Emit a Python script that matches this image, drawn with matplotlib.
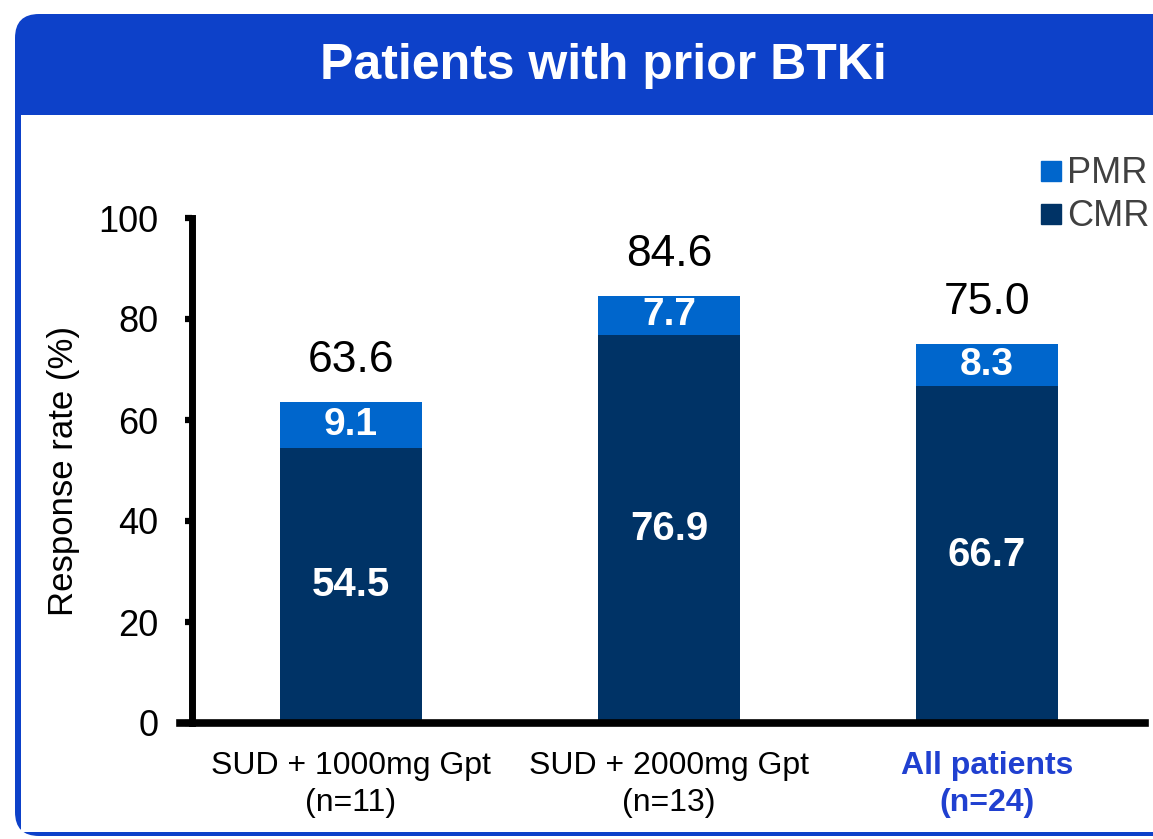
import matplotlib.pyplot as plt
from matplotlib.patches import FancyBboxPatch, Rectangle
from matplotlib.lines import Line2D

plt.rcParams['font.family'] = ['Liberation Sans', 'DejaVu Sans']

groups = ['SUD + 1000mg Gpt\n(n=11)', 'SUD + 2000mg Gpt\n(n=13)', 'All patients\n(n=24)']
cmr = [54.5, 76.9, 66.7]
pmr = [9.1, 7.7, 8.3]
totals = [63.6, 84.6, 75.0]

cmr_color = '#003366'
pmr_color = '#0066cc'
frame_blue = '#0d41c9'

W, H = 1153, 839
fig = plt.figure(figsize=(W / 100, H / 100), dpi=100)

# background frame drawn in pixel units
bg = fig.add_axes([0, 0, 1, 1], zorder=0)
bg.set_xlim(0, W)
bg.set_ylim(H, 0)
bg.axis('off')
bg.add_patch(FancyBboxPatch((15, 14), 1200, 822, boxstyle='round,pad=0,rounding_size=24',
                            facecolor=frame_blue, edgecolor='none'))
bg.add_patch(Rectangle((21, 115), 1200, 717, facecolor='white', edgecolor='none'))
bg.text(603, 66, 'Patients with prior BTKi', color='white', fontsize=36,
        fontweight='bold', ha='center', va='center')

ax_l, ax_r, ax_t, ax_b = 192, 1145, 218, 723
ax = fig.add_axes([ax_l / W, (H - ax_b) / H, (ax_r - ax_l) / W, (ax_b - ax_t) / H], zorder=1)
ax.patch.set_alpha(0)
x = list(range(len(groups)))
width = 0.447
ax.bar(x, cmr, width, color=cmr_color, zorder=2)
ax.bar(x, pmr, width, bottom=cmr, color=pmr_color, zorder=2)

for i in x:
    ax.text(i, cmr[i] / 2, f'{cmr[i]:.1f}', color='white', fontsize=29,
            fontweight='bold', ha='center', va='center')
    ax.text(i, cmr[i] + pmr[i] / 2, f'{pmr[i]:.1f}', color='white', fontsize=28,
            fontweight='bold', ha='center', va='center')
    ax.annotate(f'{totals[i]:.1f}', (i, totals[i]), xytext=(0, 30),
                textcoords='offset points', ha='center', va='center', fontsize=32)

ax.set_xlim(-0.5, 2.497)
ax.set_ylim(0, 100)
ax.set_yticks([0, 20, 40, 60, 80, 100])
ax.set_xticks(x)
ax.set_xticklabels(groups, fontsize=23, linespacing=1.3)
ax.get_xticklabels()[2].set_color('#2040d0')
ax.get_xticklabels()[2].set_fontweight('bold')
ax.tick_params(axis='x', length=0, pad=20)
ax.tick_params(axis='y', labelsize=26, width=4.5, length=5, pad=19, direction='out')
ax.set_ylabel('Response rate (%)', fontsize=25, va='center')
ax.yaxis.set_label_coords((64 - ax_l) / (ax_r - ax_l), 0.5)

for side in ['top', 'right']:
    ax.spines[side].set_visible(False)
ax.spines['left'].set_linewidth(5)
ax.spines['bottom'].set_linewidth(5.5)
ax.spines['bottom'].set_bounds(-0.537, 2.497)

handles = [Line2D([], [], marker='s', linestyle='none', markersize=14, color=pmr_color),
           Line2D([], [], marker='s', linestyle='none', markersize=14, color=cmr_color)]
fig.legend(handles, ['PMR', 'CMR'], loc='upper right', bbox_to_anchor=(1164 / W, 1 - 142 / H),
           frameon=False, fontsize=26, handletextpad=0.05, labelspacing=0.22,
           handlelength=0.8, labelcolor='#404040', borderaxespad=0)

fig.savefig('out.png', dpi=100)
